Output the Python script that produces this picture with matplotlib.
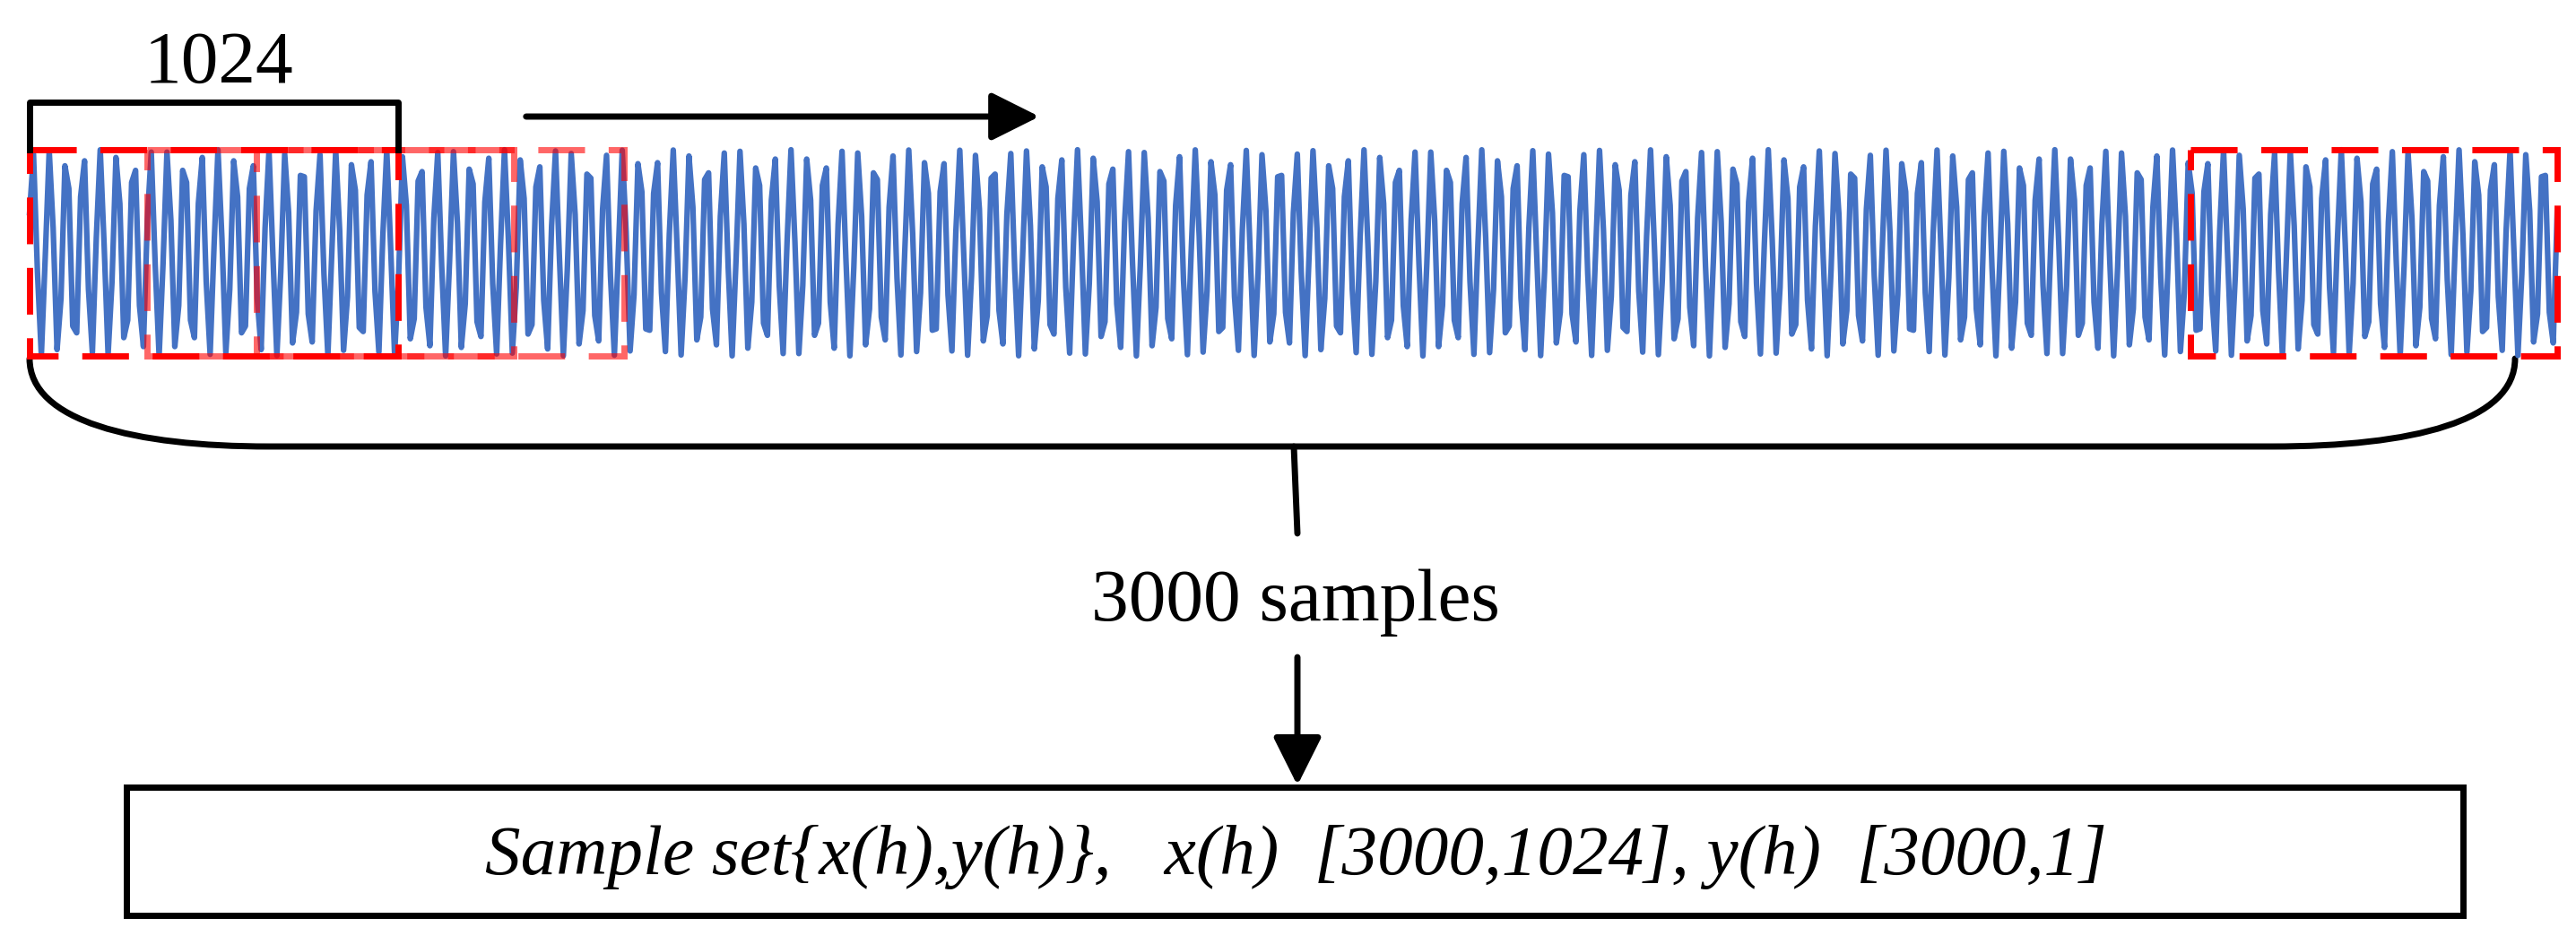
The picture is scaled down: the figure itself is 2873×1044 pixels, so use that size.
import numpy as np
import matplotlib
matplotlib.use("Agg")
import matplotlib.pyplot as plt
from matplotlib.patches import Rectangle, FancyArrowPatch, PathPatch
from matplotlib.path import Path

W, H = 2873, 1044
# window boxes: (x0, x1, alpha)
WIN_X0 = [33, 164, 286, 2443]
WIN_X1 = [444, 573, 696, 2852]
WIN_ALPHA = [1.0, 0.6, 0.6, 1.0]
SIG_TOP, SIG_BOT = 167, 397
N_CYCLES = 150
PTS_PER_CYCLE = 4.3
LABEL_WIN = "1024"
LABEL_N = "3000 samples"
LABEL_SET = "Sample set{x(h),y(h)},   x(h)  [3000,1024], y(h)  [3000,1]"

plt.rcParams["font.family"] = ["Liberation Serif", "DejaVu Serif"]
fig = plt.figure(figsize=(W / 100, H / 100), dpi=100)
ax = fig.add_axes([0, 0, 1, 1])
ax.set_xlim(0, W); ax.set_ylim(H, 0); ax.axis("off")

# illustrative vibration signal
n = int(N_CYCLES * PTS_PER_CYCLE)
t = np.linspace(0, 1, n)
mid, amp = (SIG_TOP + SIG_BOT) / 2, (SIG_BOT - SIG_TOP) / 2
sig = mid - amp * np.sin(2 * np.pi * N_CYCLES * t + 0.4)
ax.plot(WIN_X0[0] + t * (WIN_X1[-1] - WIN_X0[0]), sig, color="#4472c4", lw=4.5,
        solid_joinstyle="round", zorder=2)

for x0, x1, a in zip(WIN_X0, WIN_X1, WIN_ALPHA):
    ax.add_patch(Rectangle((x0, SIG_TOP), x1 - x0, SIG_BOT - SIG_TOP, fill=False,
                           ec="red", lw=5, ls=(0, (7.5, 3.8)), alpha=a, zorder=3))

# bracket over first window
ax.plot([WIN_X0[0], WIN_X0[0], WIN_X1[0], WIN_X1[0]], [SIG_TOP, 114, 114, SIG_TOP],
        color="black", lw=5, zorder=4)
ax.text(244, 92, LABEL_WIN, fontsize=60, ha="center", va="baseline")

# sliding direction arrow
ax.add_patch(FancyArrowPatch((584, 130), (1162, 130), arrowstyle="-|>,head_length=2.2,head_width=1.1",
                             mutation_scale=15, color="black", lw=5))

# brace under the signal
L, R, yb = WIN_X0[0], WIN_X1[-1] - 47, 498
verts = [(L, 400), (L, 470), (150, yb), (300, yb), (2534, yb),
         (2690, yb), (R, 470), (R, 400)]
codes = [Path.MOVETO, Path.CURVE4, Path.CURVE4, Path.CURVE4, Path.LINETO,
         Path.CURVE4, Path.CURVE4, Path.CURVE4]
ax.add_patch(PathPatch(Path(verts, codes), fill=False, lw=5, ec="black", capstyle="round"))
ax.plot([1443, 1447], [yb, 595], color="black", lw=5, solid_capstyle="round")

ax.text(1445, 692, LABEL_N, fontsize=60, ha="center", va="baseline")
ax.add_patch(FancyArrowPatch((1447, 733), (1447, 876), arrowstyle="-|>,head_length=2.2,head_width=1.1",
                             mutation_scale=15, color="black", lw=5, shrinkA=0, shrinkB=0))

ax.add_patch(Rectangle((141, 878), 2747 - 141, 1021 - 878, fill=False, ec="black", lw=5))
ax.text(1445, 975, LABEL_SET, fontsize=57, style="italic", ha="center", va="baseline")

fig.savefig("out.png", dpi=100)
